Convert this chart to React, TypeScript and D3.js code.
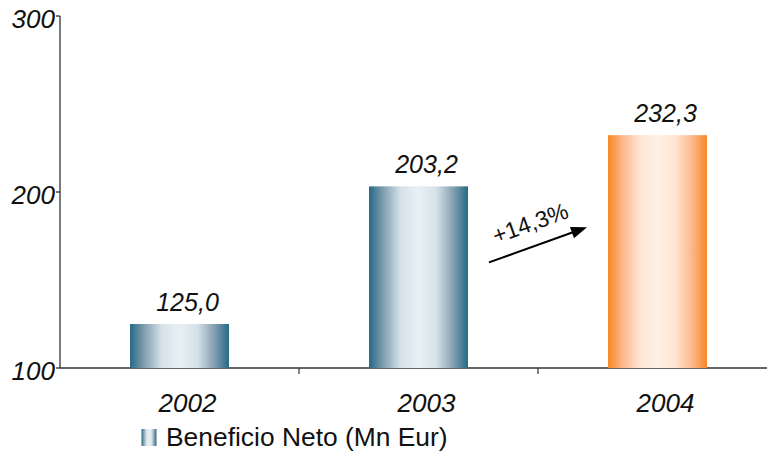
import React from "react";
import * as d3 from "d3";

// Net profit by year (millions of euros)
const years = ["2002", "2003", "2004"];
const profit = [125.0, 203.2, 232.3];
const yTicks = [100, 200, 300];
const legendLabel = "Beneficio Neto (Mn Eur)";

const W = 767;
const H = 453;
const FONT = "'Liberation Sans', Arial, Helvetica, sans-serif";

const plot = { left: 60, right: 777, top: 16, bottom: 368 };

const x = d3.scaleBand<string>().domain(years).range([plot.left, plot.right]).padding(0);
const y = d3.scaleLinear().domain([100, 300]).range([plot.bottom, plot.top]);
const barW = x.bandwidth() * 0.414;

const fmt = (v: number) => d3.format(".1f")(v).replace(".", ",");

const growth = (profit[2] / profit[1] - 1) * 100;

export default function App() {
  const lastIdx = years.length - 1;
  // growth arrow between the last two bars
  const x1 = (x(years[1]) as number) + x.bandwidth() / 2 + barW / 2 + 21;
  const x2 = (x(years[2]) as number) + x.bandwidth() / 2 - barW / 2 - 21;
  const y1 = y(160);
  const y2 = y(180);
  const ang = (Math.atan2(y2 - y1, x2 - x1) * 180) / Math.PI;
  const mx = (x1 + x2) / 2;
  const my = (y1 + y2) / 2;
  const len = Math.hypot(x2 - x1, y2 - y1);

  const boundaries = years.slice(1).map((yr) => x(yr) as number);

  return (
    <svg
      width={W}
      height={H}
      style={{ position: "absolute", left: 0, top: 0, background: "#fff" }}
      fontFamily={FONT}
    >
      <defs>
        <linearGradient id="teal" x1="0" x2="1" y1="0" y2="0">
          <stop offset="0" stopColor="#256a86" />
          <stop offset="0.14" stopColor="#7f9cae" />
          <stop offset="0.32" stopColor="#d6e2e9" />
          <stop offset="0.5" stopColor="#e8f0f4" />
          <stop offset="0.68" stopColor="#d6e2e9" />
          <stop offset="0.86" stopColor="#7f9cae" />
          <stop offset="1" stopColor="#256a86" />
        </linearGradient>
        <linearGradient id="orange" x1="0" x2="1" y1="0" y2="0">
          <stop offset="0" stopColor="#f98726" />
          <stop offset="0.14" stopColor="#fbb586" />
          <stop offset="0.32" stopColor="#fee5d3" />
          <stop offset="0.5" stopColor="#fff1e5" />
          <stop offset="0.68" stopColor="#fee5d3" />
          <stop offset="0.86" stopColor="#fbb586" />
          <stop offset="1" stopColor="#f98726" />
        </linearGradient>
      </defs>

      {/* y axis */}
      <line x1={plot.left} x2={plot.left} y1={plot.top} y2={plot.bottom} stroke="#222" strokeWidth={1.2} />
      {yTicks.map((t) => (
        <g key={t}>
          <line x1={plot.left - 4} x2={plot.left} y1={y(t)} y2={y(t)} stroke="#222" strokeWidth={1.2} />
          <text x={plot.left - 5} y={y(t) + 12} textAnchor="end" fontSize={26} fontStyle="italic" fill="#111">
            {t}
          </text>
        </g>
      ))}

      {/* x axis */}
      <line x1={plot.left} x2={W} y1={plot.bottom} y2={plot.bottom} stroke="#333" strokeWidth={1.5} />
      {boundaries.map((b, i) => (
        <line key={i} x1={b} x2={b} y1={plot.bottom} y2={plot.bottom + 6} stroke="#333" strokeWidth={1.2} />
      ))}

      {/* bars */}
      {years.map((yr, i) => {
        const cx = (x(yr) as number) + x.bandwidth() / 2;
        return (
          <g key={yr}>
            <rect
              x={cx - barW / 2}
              y={y(profit[i])}
              width={barW}
              height={plot.bottom - y(profit[i])}
              fill={i === lastIdx ? "url(#orange)" : "url(#teal)"}
            />
            <text x={cx + 8} y={y(profit[i]) - 13.5} textAnchor="middle" fontSize={25} fontStyle="italic" fill="#111">
              {fmt(profit[i])}
            </text>
            <text x={cx + 8} y={412} textAnchor="middle" fontSize={26} fontStyle="italic" fill="#111">
              {yr}
            </text>
          </g>
        );
      })}

      {/* growth arrow */}
      <g transform={`translate(${mx},${my}) rotate(${ang})`}>
        <line x1={-len / 2} x2={len / 2 - 12} y1={0} y2={0} stroke="#000" strokeWidth={2} />
        <path d={`M${len / 2},0 L${len / 2 - 16},-6 L${len / 2 - 16},6 Z`} fill="#000" />
        <text x={0} y={-15} textAnchor="middle" fontSize={23} fill="#111">
          {"+" + fmt(growth) + "%"}
        </text>
      </g>

      {/* legend */}
      <rect x={141.5} y={429} width={15} height={17} fill="url(#teal)" />
      <text x={166} y={445.5} fontSize={26.4} fill="#111">
        {legendLabel}
      </text>
    </svg>
  );
}
